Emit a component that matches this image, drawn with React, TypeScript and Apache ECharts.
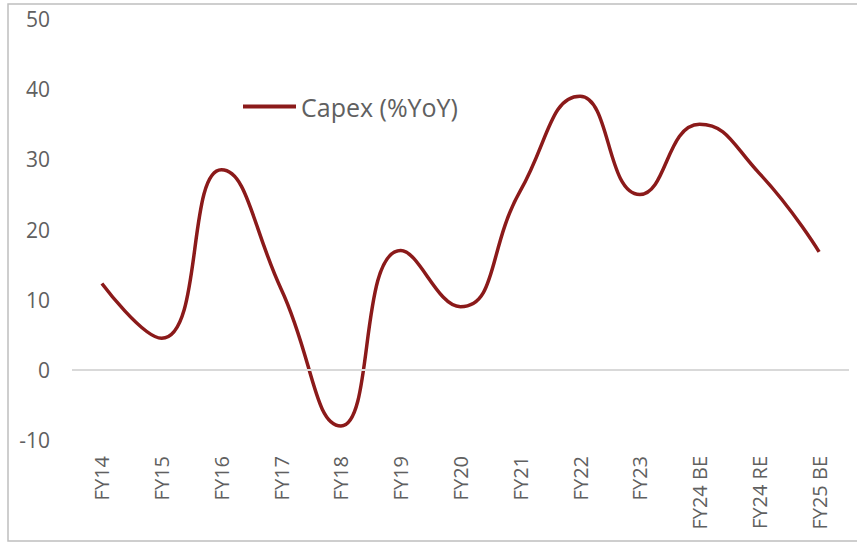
import React, { useEffect, useRef } from "react";
import * as echarts from "echarts";

const categories = ["FY14", "FY15", "FY16", "FY17", "FY18", "FY19", "FY20", "FY21", "FY22", "FY23", "FY24 BE", "FY24 RE", "FY25 BE"];
const capexYoY = [12.3, 4.5, 28.5, 11.5, -8, 17, 9, 25.5, 39, 25, 35, 28, 16.8];
const yTicks = { min: -10, max: 50, interval: 10 };

export default function App() {
  const ref = useRef<HTMLDivElement>(null);
  useEffect(() => {
    if (!ref.current) return;
    const chart = echarts.init(ref.current, null, { renderer: "svg" });
    const font = "'Open Sans', 'DejaVu Sans', sans-serif";
    chart.setOption({
      animation: false,
      grid: { left: 72, right: 8, top: 19, bottom: 103 },
      legend: {
        left: 238,
        top: 89,
        itemWidth: 53,
        itemHeight: 4,
        icon: "rect",
        textStyle: { color: "#606060", fontSize: 25, fontFamily: font },
        data: ["Capex (%YoY)"],
      },
      graphic: [
        {
          type: "rect",
          shape: { x: 8, y: 4, width: 900, height: 537 },
          style: { fill: "none", stroke: "#BFBFBF", lineWidth: 1.5 },
          silent: true,
          z: -1,
        },
      ],
      xAxis: {
        type: "category",
        data: categories,
        boundaryGap: true,
        axisLine: { show: false, onZero: false },
        axisTick: { show: false },
        axisLabel: { rotate: 90, margin: 16, color: "#606060", fontSize: 20, fontFamily: font, interval: 0 },
      },
      yAxis: {
        type: "value",
        min: yTicks.min,
        max: yTicks.max,
        interval: yTicks.interval,
        axisLine: { show: false },
        axisTick: { show: false },
        splitLine: { show: false },
        axisLabel: { margin: 22, color: "#606060", fontSize: 21, fontFamily: font },
      },
      series: [
        {
          name: "Capex (%YoY)",
          type: "line",
          data: capexYoY,
          smooth: 0.5,
          symbol: "none",
          lineStyle: { color: "#8B1A1A", width: 3.5 },
          itemStyle: { color: "#8B1A1A" },
          markLine: {
            silent: true,
            symbol: "none",
            label: { show: false },
            lineStyle: { color: "#D9D9D9", type: "solid", width: 2 },
            data: [{ yAxis: 0 }],
          },
        },
      ],
    });
    return () => chart.dispose();
  }, []);
  return <div ref={ref} style={{ width: 857, height: 543, position: "absolute", left: 0, top: 0 }} />;
}
